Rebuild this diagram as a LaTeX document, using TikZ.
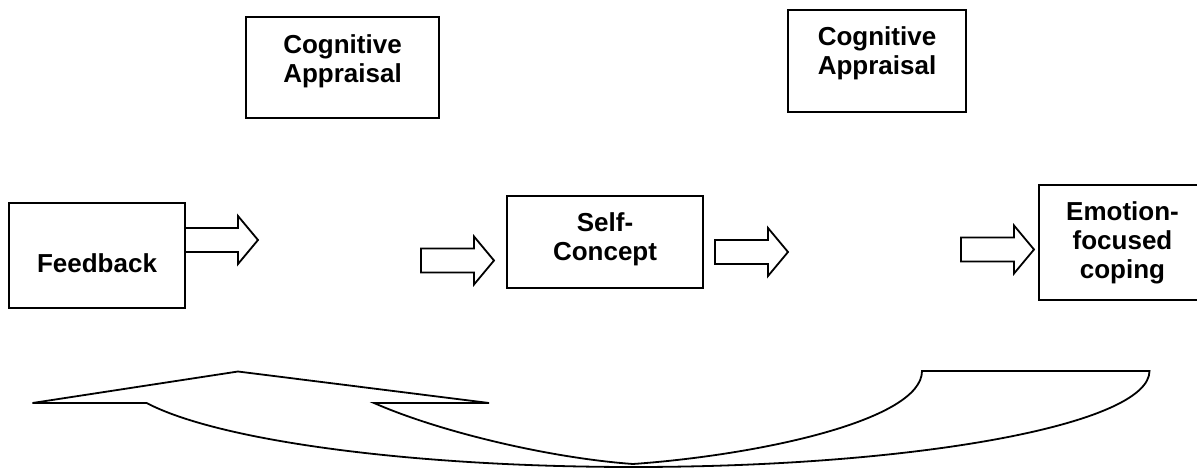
\documentclass[tikz,border=0pt]{standalone}
\usepackage{fontspec}
\setmainfont{Liberation Sans}
\begin{document}
\begin{tikzpicture}[x=1pt,y=-1pt,
  outline/.style={line width=1.8pt, line join=miter},
  box/.style={draw, line width=1.8pt, rectangle, inner sep=0pt},
  boxtext/.style={font=\fontsize{26}{29}\selectfont\bfseries, align=center, inner sep=0pt, anchor=base},
  blockarrow/.pic={\draw[outline] (0,-12) -- (53,-12) -- (53,-24) -- (73,0) -- (53,24) -- (53,12) -- (0,12) -- cycle;}
]
\useasboundingbox (0,0) rectangle (1197,468);

% boxes
\node[box, minimum width=193, minimum height=101] (ca1) at (342.5,67.5) {};
\node[box, minimum width=178, minimum height=102] (ca2) at (877,61) {};
\node[box, minimum width=176, minimum height=105] (fb) at (97,255.5) {};
\node[box, minimum width=196, minimum height=92] (sc) at (605,242) {};
\node[box, minimum width=167, minimum height=115] (efc) at (1122.5,242.5) {};

% labels (base anchor sits on the last line)
\node[boxtext] (ca1t) at (342.5,83) {Cognitive\\Appraisal};
\node[boxtext] (ca2t) at (877,75) {Cognitive\\Appraisal};
\node[boxtext] (fbt) at (97,272) {Feedback};
\node[boxtext] (sct) at (605,260) {Self-\\Concept};
\node[boxtext] (efct) at (1122.5,278) {Emotion-\\focused\\coping};

% block arrows
\pic at (185,240) {blockarrow};
\pic at (421,260.5) {blockarrow};
\pic at (715,252) {blockarrow};
\pic at (961,249.5) {blockarrow};

% curved return arrow
\draw[outline] (146.6,403) -- (32.5,403) -- (238,371.5) -- (489,403) -- (374,403)
  .. controls (440,432) and (550,458) .. (633,464)
  .. controls (760,455) and (922,420) .. (922,371)
  -- (1149.5,371)
  .. controls (1149.5,424) and (918.4,467) .. (633.3,467)
  .. controls (414.6,467) and (219.6,441.3) .. (146.6,403) -- cycle;
\end{tikzpicture}
\end{document}
